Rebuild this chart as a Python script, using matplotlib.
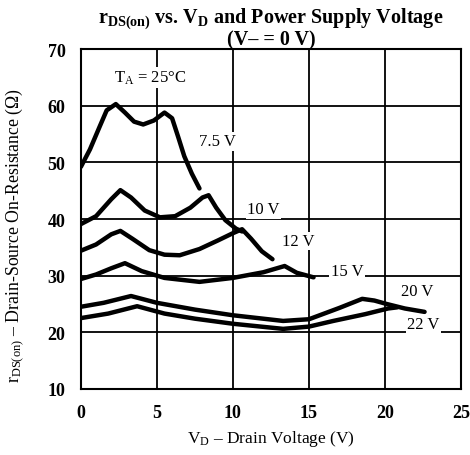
import matplotlib
matplotlib.use("Agg")
import matplotlib.pyplot as plt

plt.rcParams['font.family'] = ['Liberation Serif', 'DejaVu Serif']
plt.rcParams['mathtext.fontset'] = 'custom'
plt.rcParams['mathtext.rm'] = 'Liberation Serif'
plt.rcParams['mathtext.it'] = 'Liberation Serif'
plt.rcParams['mathtext.bf'] = 'Liberation Serif:bold'

# curves: supply voltage -> (V_D, r_DS(on))
supplies = ["7.5 V", "10 V", "12 V", "15 V", "20 V", "22 V"]
vd_75 = [0, 0.6, 1.25, 1.7, 2.3, 2.9, 3.5, 4.1, 4.8, 5.5, 6.0, 6.4, 6.8, 7.3, 7.8]
r_75 = [49.2, 52.3, 56.4, 59.2, 60.3, 58.8, 57.2, 56.7, 57.4, 58.8, 57.8, 54.5, 51.1, 48.0, 45.4]
vd_10 = [0, 1, 2, 2.6, 3.3, 4.2, 5.2, 6.2, 7.2, 8.0, 8.4, 8.9, 9.5, 10.2, 10.6]
r_10 = [39.1, 40.5, 43.5, 45.1, 43.8, 41.5, 40.3, 40.5, 42.0, 43.8, 44.2, 42.0, 39.8, 38.3, 37.8]
vd_12 = [0, 1, 2, 2.6, 3.4, 4.5, 5.5, 6.5, 7.8, 9, 10.0, 10.6, 11.2, 11.9, 12.6]
r_12 = [34.4, 35.5, 37.3, 37.9, 36.5, 34.5, 33.7, 33.6, 34.7, 36.2, 37.5, 38.2, 36.5, 34.3, 32.9]
vd_15 = [0, 1, 2, 2.9, 4, 5.5, 7.8, 10, 12, 13.4, 14.2, 15.3]
r_15 = [29.4, 30.2, 31.3, 32.2, 30.8, 29.6, 28.9, 29.6, 30.6, 31.7, 30.5, 29.7]
vd_20 = [0, 1.5, 3.3, 5, 7.5, 10, 13.3, 15, 17, 18.5, 19.3, 20.1, 21.3, 22.6]
r_20 = [24.5, 25.2, 26.4, 25.2, 24.0, 23.0, 22.0, 22.3, 24.3, 25.9, 25.6, 25.0, 24.2, 23.6]
vd_22 = [0, 1.8, 3.7, 5.5, 7.5, 10, 13.3, 15, 16.6, 18.7, 20.2, 20.8]
r_22 = [22.5, 23.3, 24.6, 23.3, 22.4, 21.5, 20.6, 21.0, 22.0, 23.2, 24.2, 24.4]

label_x = [9.0, 12.0, 14.3, 17.5, 22.1, 22.5]
label_y = [53.7, 41.7, 36.1, 30.8, 27.3, 21.5]

xticks = [0, 5, 10, 15, 20, 25]
yticks = [10, 20, 30, 40, 50, 60, 70]

fig = plt.figure(figsize=(4.7, 4.56), dpi=100)
ax = fig.add_axes([0.172, 0.145, 0.809, 0.745])

for v in xticks[1:-1]:
	ax.axvline(v, color='black', lw=1.3, zorder=1)
for v in yticks[1:-1]:
	ax.axhline(v, color='black', lw=1.3, zorder=1)

curves = [(vd_75, r_75), (vd_10, r_10), (vd_12, r_12), (vd_15, r_15), (vd_20, r_20), (vd_22, r_22)]
for (xs, ys) in curves:
	ax.plot(xs, ys, color='black', lw=3.2, solid_joinstyle='round', solid_capstyle='round', zorder=3)

for name, lx, ly in zip(supplies, label_x, label_y):
	ax.text(lx, ly, name, ha='center', va='center', fontsize=12,
		bbox=dict(facecolor='white', edgecolor='none', pad=1), zorder=2)

ax.text(2.2, 65, r'T$_\mathrm{A}$ = 25°C', ha='left', va='center', fontsize=12,
	bbox=dict(facecolor='white', edgecolor='none', pad=1), zorder=2)

ax.set_xlim(0, 25)
ax.set_ylim(10, 70)
ax.set_xticks(xticks)
ax.set_yticks(yticks)
ax.tick_params(length=0, labelsize=13, pad=11)
for lab in ax.get_xticklabels() + ax.get_yticklabels():
	lab.set_fontweight('bold')
for sp in ax.spines.values():
	sp.set_linewidth(1.5)

ax.set_xlabel(r'V$_\mathrm{D}$ – Drain Voltage (V)', fontsize=12.5, labelpad=5)
ax.set_ylabel(r'r$_\mathrm{DS(on)}$ – Drain-Source On-Resistance ($\Omega$)', fontsize=12.8)
ax.yaxis.set_label_coords(-0.145, 0.455)
ax.set_title(r'r$_\mathbf{DS(on)}$ vs. V$_\mathbf{D}$ and Power Supply Voltage' + '\n(V– = 0 V)',
	fontsize=14.5, fontweight='bold', linespacing=0.95, pad=3)

fig.savefig('out.png', dpi=100)
